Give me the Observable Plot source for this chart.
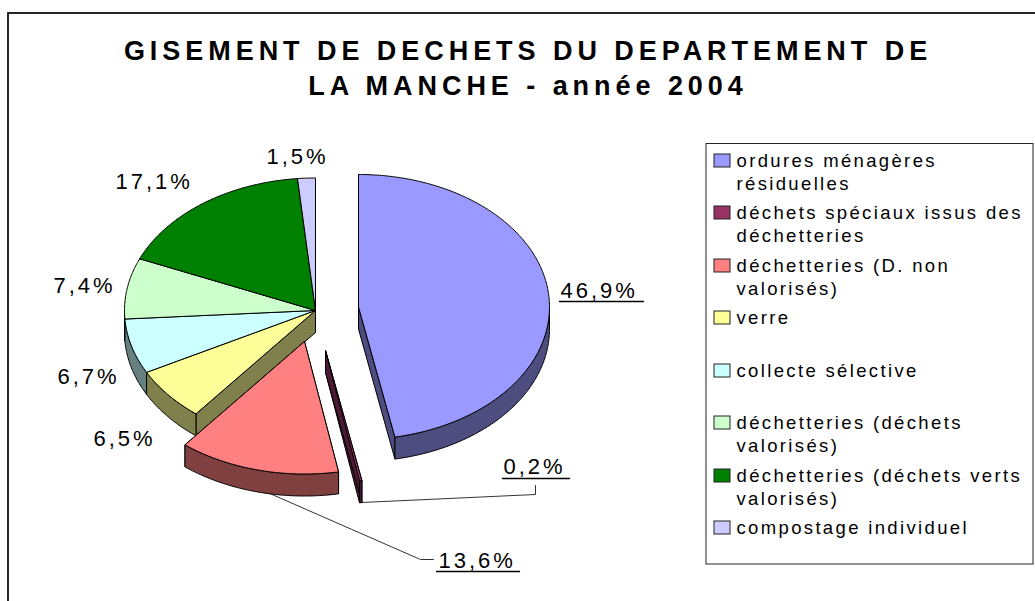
<!DOCTYPE html>
<html lang="fr"><head><meta charset="utf-8">
<script src="https://cdn.jsdelivr.net/npm/d3@7"></script>
<script src="https://cdn.jsdelivr.net/npm/@observablehq/plot@0.6"></script>
<style>
html,body{margin:0;padding:0;background:#fff}
svg{display:block;font-family:"Liberation Sans",Arial,sans-serif}
g.title text{letter-spacing:4.95px}
g.lab text{letter-spacing:3px}
g.leg text{letter-spacing:2.35px}
</style></head><body><div id="chart"></div>
<script>
const categories = ["ordures ménagères résiduelles","déchets spéciaux issus des déchetteries","déchetteries (D. non valorisés)","verre","collecte sélective","déchetteries (déchets valorisés)","déchetteries (déchets verts valorisés)","compostage individuel"];
const values = [46.9,0.2,13.6,6.5,6.7,7.4,17.1,1.5];
const valueLabels = ["46,9%","0,2%","13,6%","6,5%","6,7%","7,4%","17,1%","1,5%"];
const colors = ["#9999FF","#993366","#FF8080","#FFFF99","#CCFFFF","#CCFFCC","#008000","#CCCCFF"];
const legendLines = [["ordures ménagères","résiduelles"],["déchets spéciaux issus des","déchetteries"],["déchetteries (D. non","valorisés)"],["verre"],["collecte sélective"],["déchetteries (déchets","valorisés)"],["déchetteries (déchets verts","valorisés)"],["compostage individuel"]];
const titleLines = ["GISEMENT DE DECHETS DU DEPARTEMENT DE","LA MANCHE - année 2004"];

// layout
const W=1035,H=601,RX=191,RY=132.5,DEPTH=22;
const centers=[[358,306.5],[325,350],[304,341],[315,310],[315,310],[315,310],[315,310],[315,310]];
const labelPos=[[560,297],[503,473],[438,567],[93,445],[57,383],[53,292],[115,188],[266,163]];
const legendBase=[166,218,271,323,376,428,481,533];

const arcs=d3.pie().sort(null).startAngle(0).endAngle(2*Math.PI)(values);
const pt=(c,a,d=0)=>[c[0]+RX*Math.sin(a),c[1]-RY*Math.cos(a)+d];
const polys=[];
function add(kind,i,pts,fill){const k=kind+i;pts.forEach(p=>polys.push({k,x:p[0],y:p[1],fill}));polys.push({k,x:pts[0][0],y:pts[0][1],fill});}
const dark=c=>{const r=d3.rgb(c);return d3.rgb(r.r/2,r.g/2,r.b/2).formatHex();};
function arcPts(c,a0,a1,d=0){const n=Math.max(2,Math.ceil(Math.abs(a1-a0)/0.01));return d3.range(n+1).map(j=>pt(c,a0+(a1-a0)*j/n,d));}
function drawSides(i){
  const a=arcs[i],c=centers[i],s=dark(colors[i]);
  [a.endAngle,a.startAngle].forEach((e,n)=>{
    const p=pt(c,e);
    add("w"+n+"_",i,[c,p,[p[0],p[1]+DEPTH],[c[0],c[1]+DEPTH]],s);
  });
  const lo=Math.max(a.startAngle,Math.PI/2),hi=Math.min(a.endAngle,3*Math.PI/2);
  if(hi>lo) add("r",i,[...arcPts(c,lo,hi,0),...arcPts(c,hi,lo,DEPTH)],s);
}
function drawTop(i){add("t",i,[centers[i],...arcPts(centers[i],arcs[i].startAngle,arcs[i].endAngle)],colors[i]);}
// painter's order: the joined group first (sides back to front, then tops), then each exploded piece
[7,6,5,4,3].forEach(drawSides);
[3,4,5,6,7].forEach(drawTop);
[2,1,0].forEach(i=>{drawSides(i);drawTop(i);});

const labels=labelPos.map((p,i)=>({x:p[0],y:p[1],t:valueLabels[i]}));
const legendRows=[];
legendLines.forEach((ls,i)=>ls.forEach((t,j)=>legendRows.push({x:736,y:legendBase[i]+j*23.6,t})));
const swatches=legendBase.map((b,i)=>({x1:714,x2:730,y1:b-12,y2:b+1,fill:colors[i]}));
const underlines=[
 {k:"a",x:559,y:301},{k:"a",x:643,y:301},
 {k:"b",x:502,y:478},{k:"b",x:569,y:478},
 {k:"d",x:436,y:571},{k:"d",x:519,y:571}
];
const leaders=[
 {k:"c",x:535,y:485},{k:"c",x:535,y:494},{k:"c",x:361,y:502},
 {k:"e",x:267,y:492},{k:"e",x:420,y:559},{k:"e",x:433,y:559}
];

const plot=Plot.plot({
  width:W,height:H,marginTop:0,marginRight:0,marginBottom:0,marginLeft:0,
  x:{domain:[0,W],range:[0,W],axis:null},
  y:{domain:[0,H],range:[0,H],axis:null},
  style:{background:"#fff"},
  marks:[
    Plot.rect([{x1:8,y1:13,x2:1040,y2:606}],{x1:"x1",x2:"x2",y1:"y1",y2:"y2",fill:"#fff",stroke:"#000",strokeWidth:1.7}),
    Plot.line(leaders,{x:"x",y:"y",z:"k",stroke:"#333",strokeWidth:1}),
    Plot.line(underlines,{x:"x",y:"y",z:"k",stroke:"#000",strokeWidth:1.4}),
    Plot.line(polys,{x:"x",y:"y",z:"k",fill:"fill",stroke:"#000",strokeWidth:1,strokeLinejoin:"round"}),
    Plot.text(titleLines.map((t,i)=>({t,y:59.5+i*35})),{x:()=>527.5,y:"y",text:"t",textAnchor:"middle",lineAnchor:"bottom",fontSize:27,fontWeight:"bold",fill:"#000",className:"title"}),
    Plot.text(labels,{x:"x",y:"y",text:"t",textAnchor:"start",lineAnchor:"bottom",fontSize:22,fill:"#000",className:"lab"}),
    Plot.rect([{x1:706,y1:143.5,x2:1033,y2:564}],{x1:"x1",x2:"x2",y1:"y1",y2:"y2",fill:"#fff",stroke:"#222",strokeWidth:1}),
    Plot.rect(swatches,{x1:"x1",x2:"x2",y1:"y1",y2:"y2",fill:"fill",stroke:"#222",strokeWidth:1}),
    Plot.text(legendRows,{x:"x",y:"y",text:"t",textAnchor:"start",lineAnchor:"bottom",fontSize:18.5,fill:"#000",className:"leg"})
  ]
});
document.getElementById("chart").append(plot);
</script></body></html>
